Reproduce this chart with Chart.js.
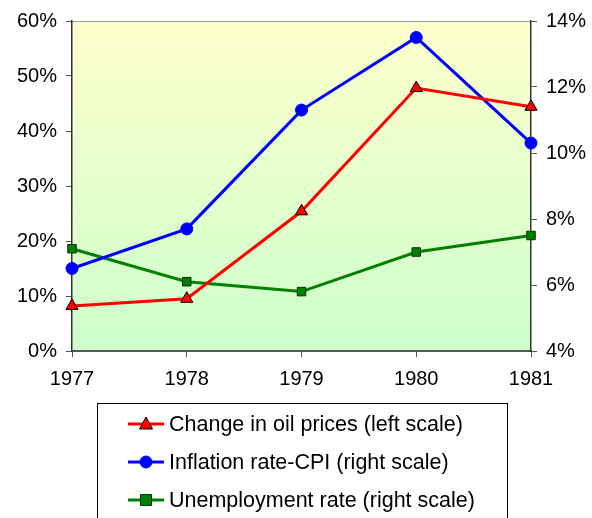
<!DOCTYPE html>
<html>
<head>
<meta charset="utf-8">
<script src="https://cdn.jsdelivr.net/npm/chart.js@4"></script>
<style>
  body { margin: 0; background: #fff; }
  #wrap { width: 592px; height: 518px; }
</style>
</head>
<body>
<div id="wrap"><canvas id="myChart" width="592" height="518"></canvas></div>
<script>
var years = ['1977', '1978', '1979', '1980', '1981'];
var oilChange = [8.2, 9.5, 25.4, 47.8, 44.4];      // left scale, %
var inflationCPI = [6.5, 7.7, 11.3, 13.5, 10.3];   // right scale, %
var unemployment = [7.1, 6.1, 5.8, 7.0, 7.5];      // right scale, %
var leftTicks = [0, 10, 20, 30, 40, 50, 60];
var rightTicks = [4, 6, 8, 10, 12, 14];

var FONT = { family: 'Arial, "Liberation Sans", sans-serif', size: 20 };
var LEGEND_FONT = '21.5px Arial, "Liberation Sans", sans-serif';

// gradient plot background + top border
var plotBg = {
    id: 'plotBg',
    beforeDraw: function(chart) {
        var a = chart.chartArea, c = chart.ctx;
        var g = c.createLinearGradient(0, a.top, 0, a.bottom);
        g.addColorStop(0, '#fdffcc');
        g.addColorStop(1, '#ccffcc');
        c.save();
        c.fillStyle = g;
        c.fillRect(a.left, a.top, a.right - a.left, a.bottom - a.top);
        c.strokeStyle = '#999';
        c.lineWidth = 1;
        c.beginPath();
        c.moveTo(a.left, a.top + 0.5);
        c.lineTo(a.right, a.top + 0.5);
        c.stroke();
        c.restore();
    }
};

// boxed legend, one entry per row
var boxLegend = {
    id: 'boxLegend',
    afterDraw: function(chart) {
        var c = chart.ctx;
        c.save();
        c.strokeStyle = '#000';
        c.lineWidth = 1;
        c.strokeRect(97.5, 403.5, 410, 130);
        c.font = LEGEND_FONT;
        c.textBaseline = 'middle';
        var rows = [424, 462, 500];
        chart.data.datasets.forEach(function(ds, i) {
            var y = rows[i];
            c.strokeStyle = ds.borderColor;
            c.lineWidth = 3;
            c.beginPath();
            c.moveTo(128, y);
            c.lineTo(164, y);
            c.stroke();
            c.fillStyle = ds.pointBackgroundColor;
            c.strokeStyle = ds.pointBorderColor;
            c.lineWidth = 1;
            c.beginPath();
            if (ds.pointStyle === 'triangle') {
                c.moveTo(146, y - 7); c.lineTo(152.5, y + 5); c.lineTo(139.5, y + 5); c.closePath();
            } else if (ds.pointStyle === 'circle') {
                c.arc(146, y, 6, 0, Math.PI * 2);
            } else {
                c.rect(140.5, y - 5.5, 11, 11);
            }
            c.fill();
            c.stroke();
            c.fillStyle = '#000';
            c.fillText(ds.label, 169, y + 1);
        });
        c.restore();
    }
};

var ctx = document.getElementById('myChart').getContext('2d');

var myChart = new Chart(ctx, {
    type: 'line',
    data: {
        labels: years,
        datasets: [{
            label: 'Change in oil prices (left scale)',
            data: oilChange,
            yAxisID: 'y',
            borderColor: '#ff0000',
            borderWidth: 3,
            pointStyle: 'triangle',
            pointRadius: 7,
            pointBackgroundColor: '#ff0000',
            pointBorderColor: '#000',
            pointBorderWidth: 1,
            tension: 0
        }, {
            label: 'Inflation rate-CPI (right scale)',
            data: inflationCPI,
            yAxisID: 'y1',
            borderColor: '#0000ff',
            borderWidth: 3,
            pointStyle: 'circle',
            pointRadius: 6,
            pointBackgroundColor: '#0000ff',
            pointBorderColor: '#0000ff',
            pointBorderWidth: 1,
            tension: 0
        }, {
            label: 'Unemployment rate (right scale)',
            data: unemployment,
            yAxisID: 'y1',
            borderColor: '#008000',
            borderWidth: 3,
            pointStyle: 'rect',
            pointRadius: 6,
            pointBackgroundColor: '#008000',
            pointBorderColor: '#003300',
            pointBorderWidth: 1,
            tension: 0
        }]
    },
    options: {
        responsive: false,
        animation: false,
        clip: false,
        layout: { padding: { left: 0, right: 0, top: 16, bottom: 127 } },
        plugins: {
            legend: { display: false },
            tooltip: { enabled: false }
        },
        scales: {
            x: {
                offset: false,
                afterFit: function(s) { s.height = 40; },
                border: { color: '#555', width: 2 },
                grid: { drawOnChartArea: false, tickLength: 6, color: '#555' },
                ticks: { color: '#000', font: FONT, padding: 10, maxRotation: 0 }
            },
            y: {
                position: 'left',
                min: 0, max: 60,
                afterFit: function(s) { s.width = 72; },
                afterBuildTicks: function(s) { s.ticks = leftTicks.map(function(v) { return { value: v }; }); },
                border: { color: '#333', width: 1.5 },
                grid: { drawOnChartArea: false, tickLength: 6, color: '#555' },
                ticks: {
                    color: '#000', font: FONT, padding: 9,
                    callback: function(v) { return v + '%'; }
                }
            },
            y1: {
                position: 'right',
                min: 4, max: 14,
                afterFit: function(s) { s.width = 61; },
                afterBuildTicks: function(s) { s.ticks = rightTicks.map(function(v) { return { value: v }; }); },
                border: { color: '#333', width: 1.5 },
                grid: { drawOnChartArea: false, tickLength: 6, color: '#555' },
                ticks: {
                    color: '#000', font: FONT, padding: 9,
                    callback: function(v) { return v + '%'; }
                }
            }
        }
    },
    plugins: [plotBg, boxLegend]
});
</script>
</body>
</html>
